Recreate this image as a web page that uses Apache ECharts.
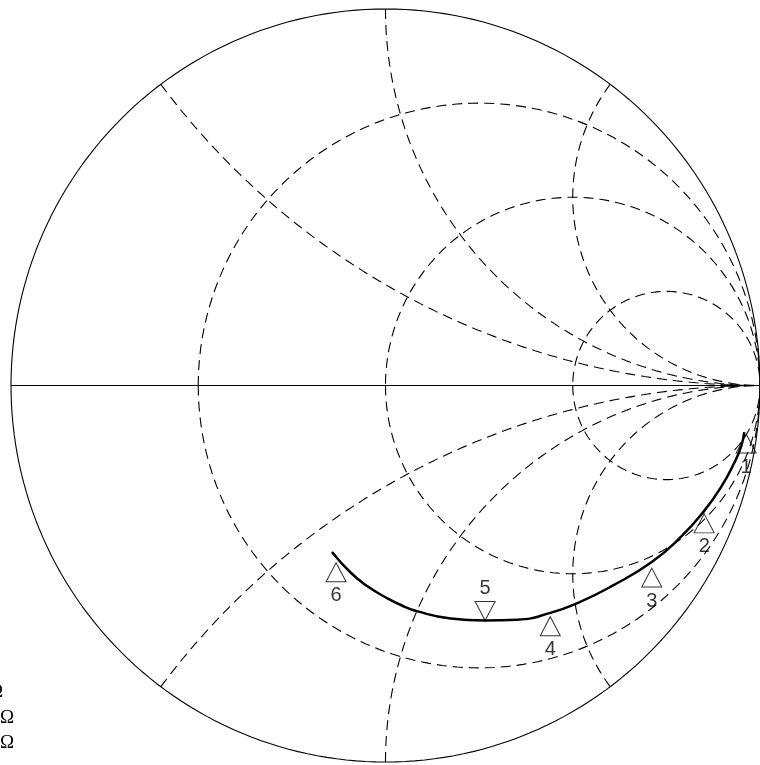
<!DOCTYPE html>
<html>
<head>
<meta charset="utf-8">
<script src="https://cdn.jsdelivr.net/npm/echarts@6/dist/echarts.min.js"></script>
<style>
  html, body { margin: 0; padding: 0; background: #fff; }
  #chart { width: 760px; height: 765px; }
</style>
</head>
<body>
<div id="chart"></div>
<script>
// Smith chart grid values (normalised impedance)
const resistanceCircles = [1 / 3, 1, 3];
const reactanceArcs = [0.5, 1, 2];

// Measured trace, reflection coefficient (real / imaginary)
const traceRe = [-0.143, -0.092, -0.047, 0.001, 0.041, 0.086, 0.174, 0.264, 0.352, 0.440, 0.517, 0.604, 0.711, 0.790, 0.851, 0.896, 0.931, 0.950, 0.958];
const traceIm = [-0.442, -0.498, -0.534, -0.563, -0.583, -0.600, -0.619, -0.624, -0.622, -0.604, -0.576, -0.533, -0.469, -0.401, -0.333, -0.270, -0.206, -0.161, -0.124];

// Frequency markers on the trace
const markerNames = ['1', '2', '3', '4', '5', '6'];
const markerRe = [0.963, 0.851, 0.711, 0.440, 0.266, -0.132];
const markerIm = [-0.129, -0.341, -0.485, -0.614, -0.624, -0.471];
const markerInverted = [false, false, false, false, true, false];

// Reference impedance notes
const noteLines = ['Z0 = 50 \u03A9', 'ZS = 50.0 \u03A9', 'ZL = 50.0 \u03A9', 'f = 1 GHz'];

const chart = echarts.init(document.getElementById('chart'), null, { renderer: 'canvas' });

const DASH = [10, 6];
const N = 240;

function circlePoints(cx, cy, r, a0, a1) {
  const pts = [];
  for (let i = 0; i <= N; i++) {
    const a = a0 + (a1 - a0) * i / N;
    pts.push([cx + r * Math.cos(a), cy + r * Math.sin(a)]);
  }
  return pts;
}

const series = [];

// outer boundary |Γ| = 1
series.push({
  type: 'line', data: circlePoints(0, 0, 1, 0, 2 * Math.PI),
  showSymbol: false, silent: true, clip: false,
  lineStyle: { color: '#000', width: 1.1 }
});
// real axis
series.push({
  type: 'line', data: [[-1, 0], [1, 0]],
  showSymbol: false, silent: true, clip: false,
  lineStyle: { color: '#000', width: 1.1 }
});
// constant resistance circles
resistanceCircles.forEach(r => {
  const c = r / (r + 1), rad = 1 / (r + 1);
  series.push({
    type: 'line', data: circlePoints(c, 0, rad, Math.PI, 3 * Math.PI),
    showSymbol: false, silent: true, clip: false,
    lineStyle: { color: '#000', width: 1.1, type: DASH }
  });
});
// constant reactance arcs (positive and negative)
reactanceArcs.forEach(x => {
  [1, -1].forEach(s => {
    const cy = 1 / x, rad = 1 / x;
    const px = (x * x - 1) / (x * x + 1), py = 2 * x / (x * x + 1);
    let a0 = Math.atan2(py - cy, px - 1);
    if (a0 < 0) a0 += 2 * Math.PI;
    const pts = circlePoints(1, cy, rad, a0, 1.5 * Math.PI).map(p => [p[0], s * p[1]]);
    series.push({
      type: 'line', data: pts,
      showSymbol: false, silent: true, clip: false,
      lineStyle: { color: '#000', width: 1.1, type: DASH }
    });
  });
});
// measured trace
series.push({
  type: 'line', data: traceRe.map((v, i) => [v, traceIm[i]]),
  smooth: 0.5, showSymbol: false, silent: true, clip: false,
  lineStyle: { color: '#000', width: 2.5 }
});
// marker triangles
series.push({
  type: 'scatter', silent: true, clip: false,
  data: markerRe.map((v, i) => ({
    value: [v, markerIm[i]],
    symbolRotate: markerInverted[i] ? 180 : 0,
    symbolOffset: [0, markerInverted[i] ? '-50%' : '50%']
  })),
  symbol: 'triangle', symbolSize: [20, 19],
  itemStyle: { color: 'rgba(0,0,0,0)', borderColor: '#000', borderWidth: 1 }
});
// marker numbers
series.push({
  type: 'scatter', silent: true, clip: false,
  symbolSize: 1,
  itemStyle: { color: 'rgba(0,0,0,0)' },
  data: markerRe.map((v, i) => ({
    value: [v, markerIm[i]],
    label: { offset: [0, markerInverted[i] ? -32 : 33] }
  })),
  label: {
    show: true, position: 'inside',
    formatter: p => markerNames[p.dataIndex],
    color: '#000', fontFamily: 'Liberation Sans, Arial, sans-serif', fontSize: 20
  }
});

const graphics = noteLines.map((t, i) => ({
  type: 'text', right: i === 0 || i === 3 ? 757 : 746, top: 683 + i * 25.5,
  style: { text: t, fill: '#000', font: '19px "Liberation Serif", "Times New Roman", serif', textAlign: 'right' }
}));

chart.setOption({
  animation: false,
  backgroundColor: '#fff',
  grid: { left: 11, top: 9, width: 753, height: 753 },
  xAxis: { type: 'value', min: -1, max: 1, show: false },
  yAxis: { type: 'value', min: -1, max: 1, show: false },
  graphic: graphics,
  series: series
});
</script>
</body>
</html>
